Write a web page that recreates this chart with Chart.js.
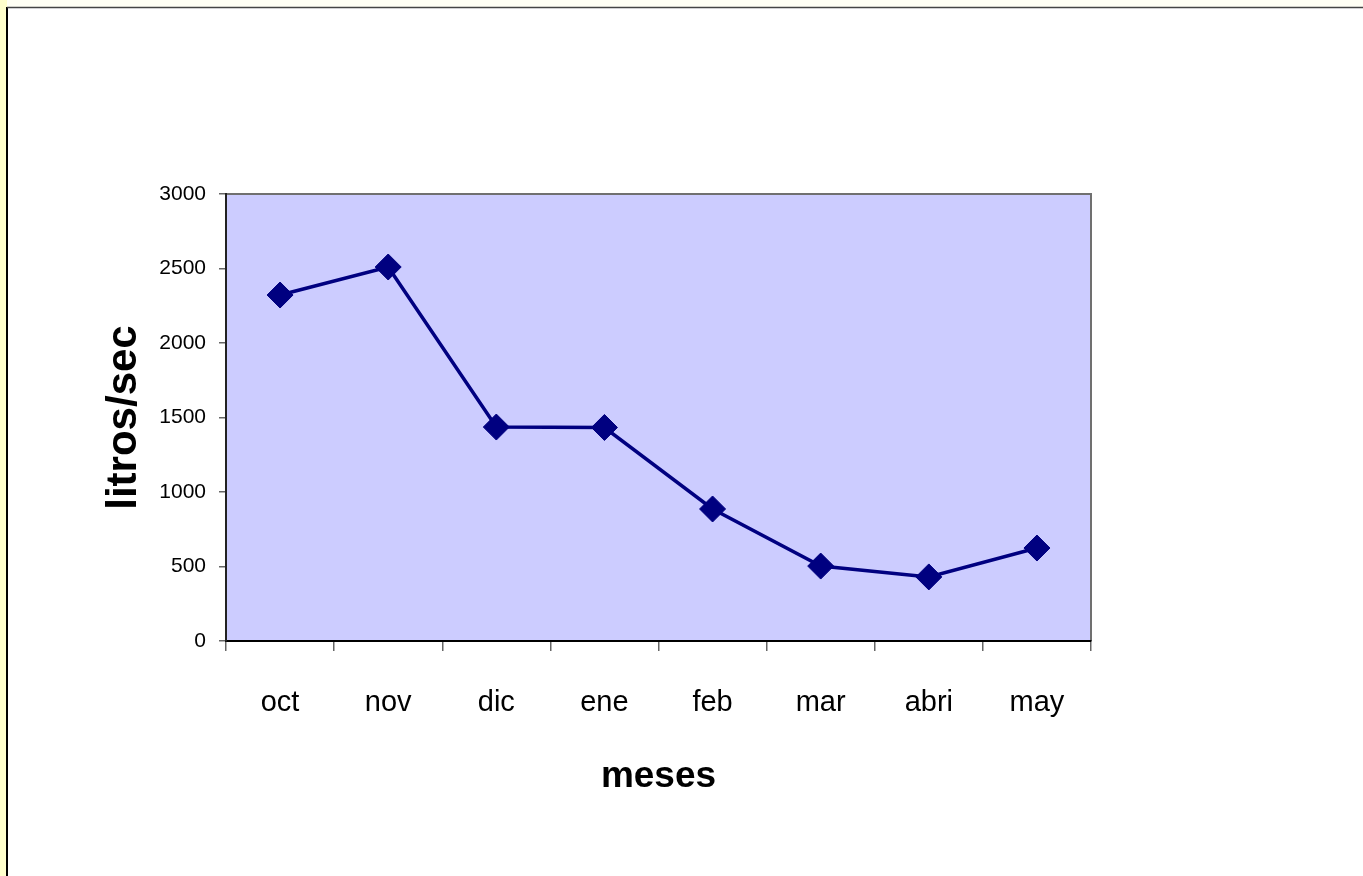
<!DOCTYPE html>
<html>
<head>
<meta charset="utf-8">
<script src="https://cdn.jsdelivr.net/npm/chart.js@4/dist/chart.umd.min.js"></script>
<style>
  html, body { margin: 0; padding: 0; background: #fff; }
  #wrap { width: 1363px; height: 876px; }
</style>
</head>
<body>
<div id="wrap"><canvas id="line-chart" width="1363" height="876"></canvas></div>
<script>
var meses = ['oct', 'nov', 'dic', 'ene', 'feb', 'mar', 'abri', 'may']
var caudal = [2322, 2510, 1436, 1433, 886, 503, 430, 624]
var yTicks = [0, 500, 1000, 1500, 2000, 2500, 3000]

var fuente = "'Liberation Sans', Arial, sans-serif"

// fondo de la hoja, marco y area de trazado
var fondo = {
    id: 'fondo',
    beforeDraw: function(chart) {
        var ctx = chart.ctx
        var a = chart.chartArea
        ctx.save()
        ctx.fillStyle = '#ffffff'
        ctx.fillRect(0, 0, chart.width, chart.height)
        ctx.fillStyle = '#fffff4'
        ctx.fillRect(0, 0, chart.width, 7)
        ctx.fillStyle = '#ffffcc'
        ctx.fillRect(0, 0, 7, chart.height)
        ctx.strokeStyle = '#000000'
        ctx.lineWidth = 2
        ctx.beginPath()
        ctx.moveTo(7, chart.height)
        ctx.lineTo(7, 7)
        ctx.stroke()
        ctx.strokeStyle = '#444444'
        ctx.lineWidth = 1.5
        ctx.beginPath()
        ctx.moveTo(7, 7.5)
        ctx.lineTo(chart.width, 7.5)
        ctx.stroke()
        ctx.fillStyle = '#ccccff'
        ctx.fillRect(a.left, a.top, a.right - a.left, a.bottom - a.top)
        ctx.strokeStyle = '#707070'
        ctx.lineWidth = 2
        ctx.beginPath()
        ctx.moveTo(a.left, a.top)
        ctx.lineTo(a.right, a.top)
        ctx.lineTo(a.right, a.bottom)
        ctx.stroke()
        ctx.restore()
    }
}

new Chart(document.getElementById('line-chart'), {
    type: 'line',
    data: {
        labels: meses,
        datasets: [{
            data: caudal,
            borderColor: '#000080',
            backgroundColor: '#000080',
            borderWidth: 3.5,
            pointStyle: 'rectRot',
            pointRadius: 13,
            pointBorderWidth: 1,
            pointBackgroundColor: '#000080',
            pointBorderColor: '#000080',
            tension: 0,
            fill: false
        }]
    },
    options: {
        responsive: false,
        animation: false,
        events: [],
        layout: { padding: { left: 0, top: 194, right: 272, bottom: 0 } },
        plugins: {
            legend: { display: false },
            tooltip: { enabled: false },
            title: { display: false }
        },
        scales: {
            x: {
                offset: true,
                grid: { offset: true, drawOnChartArea: false, color: '#666666', tickLength: 10, lineWidth: 1.5 },
                border: { color: '#000000', width: 2 },
                ticks: { color: '#000000', padding: 35, font: { family: fuente, size: 29 } },
                title: {
                    display: true,
                    text: 'meses',
                    color: '#000000',
                    font: { family: fuente, size: 37, weight: 'bold' },
                    padding: { top: 0, bottom: 77 }
                },
                afterFit: function(scale) { scale.height = 235 }
            },
            y: {
                min: 0,
                max: 3000,
                afterBuildTicks: function(scale) {
                    scale.ticks = yTicks.map(function(v) { return { value: v } })
                },
                grid: { drawOnChartArea: false, color: '#666666', tickLength: 7, lineWidth: 1.5 },
                border: { color: '#222222', width: 2 },
                ticks: {
                    color: '#000000',
                    padding: 13,
                    font: { family: fuente, size: 21 },
                    callback: function(value) { return String(value) }
                },
                title: {
                    display: true,
                    text: 'litros/sec',
                    color: '#000000',
                    font: { family: fuente, size: 42, weight: 'bold' },
                    padding: { top: 99, bottom: 0 }
                },
                afterFit: function(scale) { scale.width = 226 }
            }
        }
    },
    plugins: [fondo]
});
</script>
</body>
</html>
